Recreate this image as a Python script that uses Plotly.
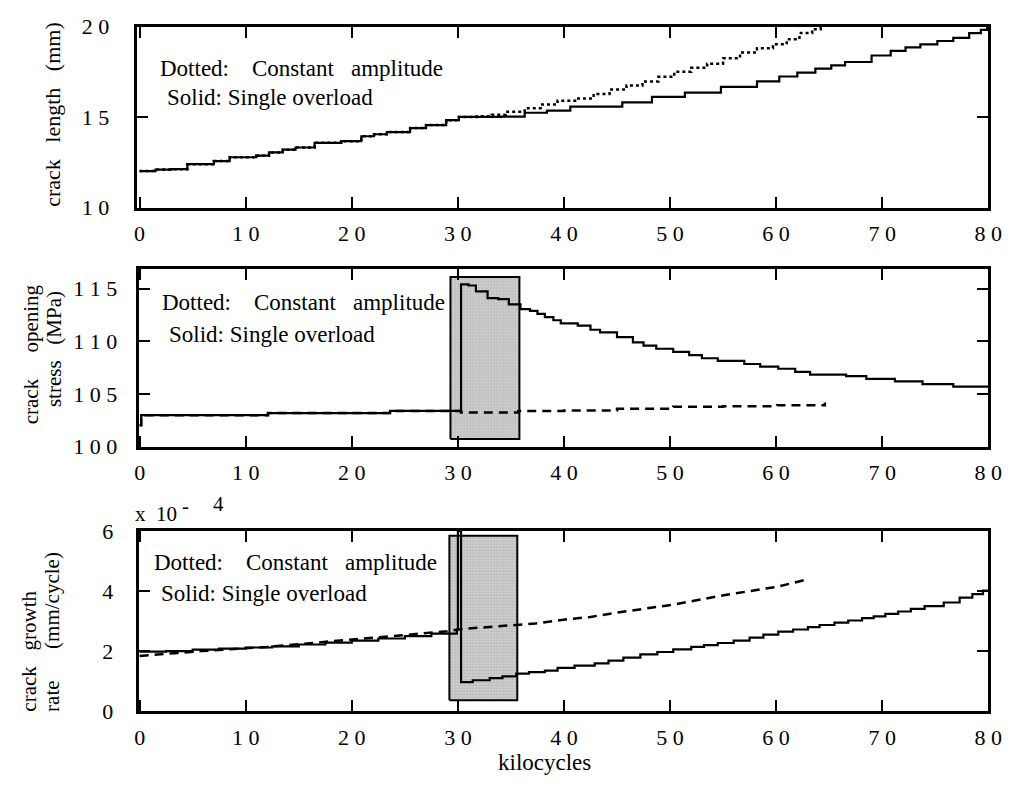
import plotly.graph_objects as go

W, H = 1018, 790

# ---------------- data ----------------
kc_ticks = [0, 10, 20, 30, 40, 50, 60, 70, 80]
kc_ticktext = ["0", "1 0", "2 0", "3 0", "4 0", "5 0", "6 0", "7 0", "8 0"]

# Panel 1: crack length (mm)
len_ol_x = [0, 1.5, 3, 4.5, 7, 8.5, 11, 12.2, 13.5, 14.7, 16.5, 19, 20.9, 22.1, 23.3, 25.5, 27,
            28.9, 30.1, 34.1, 36.3, 38.4, 40.6, 45.5, 48.3, 51.4, 54.8, 58.2, 60.3, 62, 63.7,
            65.2, 66.5, 69, 70.8, 72.2, 73.6, 75.2, 76.7, 78.2, 79.3, 79.9, 80]
len_ol_y = [12.02, 12.1, 12.12, 12.4, 12.57, 12.78, 12.87, 13.05, 13.2, 13.32, 13.58, 13.67, 13.94,
            14.05, 14.17, 14.39, 14.56, 14.83, 15.01, 15.03, 15.24, 15.36, 15.58, 15.81, 16.11,
            16.35, 16.67, 16.97, 17.24, 17.45, 17.68, 17.85, 18.04, 18.4, 18.66, 18.85, 19.02,
            19.2, 19.37, 19.64, 19.82, 20.0, 20.0]
len_ca_x = [0, 1.5, 3, 4.5, 7, 8.5, 11, 12.2, 13.5, 14.7, 16.5, 19, 20.9, 22.1, 23.3, 25.5, 27,
            28.9, 30.1, 31.8, 33.2, 34.5, 36.3, 37.8, 39.4, 41.2, 42.8, 44.3, 45.9, 47.4, 48.9,
            50.4, 52, 53.5, 55, 56.6, 58.2, 59.7, 61, 62.2, 63.4, 64.2]
len_ca_y = [12.02, 12.1, 12.12, 12.4, 12.57, 12.78, 12.87, 13.05, 13.2, 13.32, 13.58, 13.67, 13.94,
            14.05, 14.17, 14.39, 14.56, 14.83, 15.01, 15.05, 15.13, 15.3, 15.49, 15.7, 15.9,
            16.03, 16.28, 16.52, 16.75, 16.97, 17.22, 17.5, 17.72, 17.95, 18.25, 18.57, 18.8,
            19.02, 19.3, 19.64, 19.85, 20.0]

# Panel 2: crack opening stress (MPa)
sop_ol_x = [0, 0.15, 12.1, 23.6, 30.3, 31.0, 31.7, 32.8, 33.8, 34.8, 35.9, 36.8, 37.5, 38.2, 39.0,
            39.7, 41.3, 42.5, 43.4, 45.0, 46.5, 47.5, 48.7, 50.3, 51.8, 53.0, 54.5, 57.0, 58.5,
            60.2, 61.8, 63.2, 66.6, 68.5, 71.2, 73.8, 76.7, 80.0]
sop_ol_y = [102.05, 103.0, 103.2, 103.4, 115.4, 115.3, 114.75, 114.1, 114.0, 113.5, 113.05, 112.9,
            112.6, 112.3, 112.0, 111.7, 111.5, 111.1, 110.85, 110.4, 109.9, 109.6, 109.3, 109.0,
            108.7, 108.4, 108.15, 107.85, 107.6, 107.4, 107.1, 106.85, 106.7, 106.45, 106.2,
            105.95, 105.7, 105.65]
sop_ca_x = [0, 0.15, 12.1, 23.6, 30.3, 35.7, 40.0, 45.0, 50.3, 55.0, 60.1, 64.6]
sop_ca_y = [102.05, 103.0, 103.2, 103.4, 103.25, 103.4, 103.45, 103.6, 103.8, 103.85, 103.95, 104.2]

# Panel 3: crack growth rate (x 1e-4 mm/cycle)
rate_ol_x = [0, 2.5, 5, 7.5, 10, 12.5, 15, 17.5, 20, 22.5, 25, 27.5, 29.9, 30.0, 30.3, 31.4, 33,
             34.2, 35.5, 36.7, 38.2, 39.4, 41, 42.9, 44.2, 45.6, 47.2, 48.8, 50.3, 52, 53.2, 54.5,
             56, 57.5, 58.8, 60.2, 61.6, 63, 64.1, 65.5, 66.8, 68.1, 69.2, 70.3, 71.5, 72.7, 74,
             75.8, 77.3, 78.5, 79.5, 80]
rate_ol_y = [1.98, 2.0, 2.05, 2.08, 2.12, 2.16, 2.22, 2.28, 2.35, 2.42, 2.5, 2.58, 2.72, 6.0, 0.97,
             1.03, 1.1, 1.16, 1.25, 1.3, 1.35, 1.44, 1.52, 1.59, 1.68, 1.78, 1.89, 1.97, 2.06, 2.14,
             2.2, 2.27, 2.35, 2.45, 2.55, 2.65, 2.72, 2.8, 2.87, 2.95, 3.02, 3.1, 3.16, 3.24, 3.32,
             3.41, 3.5, 3.62, 3.78, 3.9, 4.02, 4.02]
rate_ca_x = [0, 5.8, 12, 18.2, 24.3, 29, 30.5, 35.5, 37.3, 40.3, 42.5, 45, 50.3, 55.2, 60.2, 62.6]
rate_ca_y = [1.84, 2.0, 2.14, 2.33, 2.52, 2.66, 2.74, 2.89, 2.92, 3.06, 3.14, 3.28, 3.55, 3.87,
             4.15, 4.36]

# Overload affected windows (shaded boxes)
sop_box_x = [29.3, 35.8]
sop_box_y = [100.75, 116.1]
rate_box_x = [29.2, 35.6]
rate_box_y = [0.36, 5.84]

# ---------------- figure ----------------
SERIF = "Liberation Serif"


def px(x):
    return x / W


def py(y):
    return 1 - y / H


fig = go.Figure()


def add_box(bx, by, xa, ya):
    fig.add_trace(go.Scatter(
        x=[bx[0], bx[1], bx[1], bx[0], bx[0]],
        y=[by[0], by[0], by[1], by[1], by[0]],
        mode="lines", fill="toself", fillcolor="#c8c8c8",
        fillpattern=dict(shape=".", fgcolor="#9a9a9a", bgcolor="#d4d4d4", size=3, solidity=0.45),
        line=dict(color="black", width=2), xaxis=xa, yaxis=ya, hoverinfo="skip"))


# panel 1
fig.add_trace(go.Scatter(x=len_ol_x, y=len_ol_y, mode="lines", line_shape="hv",
                         line=dict(color="black", width=2.2), xaxis="x", yaxis="y"))
fig.add_trace(go.Scatter(x=len_ca_x, y=len_ca_y, mode="lines", line_shape="hv",
                         line=dict(color="black", width=2.5, dash="dot"), xaxis="x", yaxis="y"))
# panel 2
add_box(sop_box_x, sop_box_y, "x2", "y2")
fig.add_trace(go.Scatter(x=sop_ca_x, y=sop_ca_y, mode="lines", line_shape="hv",
                         line=dict(color="black", width=2.5, dash="9px,6px"), xaxis="x2", yaxis="y2"))
fig.add_trace(go.Scatter(x=sop_ol_x, y=sop_ol_y, mode="lines", line_shape="hv",
                         line=dict(color="black", width=2.2), xaxis="x2", yaxis="y2"))
# panel 3
add_box(rate_box_x, rate_box_y, "x3", "y3")
fig.add_trace(go.Scatter(x=rate_ca_x, y=rate_ca_y, mode="lines",
                         line=dict(color="black", width=2.5, dash="9px,6px"), xaxis="x3", yaxis="y3"))
fig.add_trace(go.Scatter(x=rate_ol_x, y=rate_ol_y, mode="lines", line_shape="hv",
                         line=dict(color="black", width=2.2), xaxis="x3", yaxis="y3"))


def ax(**kw):
    d = dict(showline=True, linecolor="black", linewidth=3, mirror="ticks", ticks="inside",
             ticklen=11, tickwidth=2, tickcolor="black", showgrid=False, zeroline=False,
             tickfont=dict(family=SERIF, size=22, color="black"), fixedrange=True)
    d.update(kw)
    return d


xcommon = dict(tickmode="array", tickvals=kc_ticks, ticktext=kc_ticktext, ticklabelstandoff=4)

fig.update_layout(
    width=W, height=H, margin=dict(l=0, r=0, t=0, b=0),
    paper_bgcolor="white", plot_bgcolor="white", showlegend=False,
    font=dict(family=SERIF, color="black"),
    xaxis=ax(domain=[px(135), px(1002)], range=[-0.28, 80], anchor="y", **xcommon),
    yaxis=ax(domain=[py(202), py(15)], range=[10, 20], anchor="x", tickmode="array",
             tickvals=[10, 15, 20], ticktext=["1 0", "1 5", "2 0"], ticklabelstandoff=20),
    xaxis2=ax(domain=[px(137), px(1002)], range=[-0.1, 80], anchor="y2", **xcommon),
    yaxis2=ax(domain=[py(449), py(265)], range=[100, 116.9], anchor="x2", tickmode="array",
              tickvals=[100, 105, 110, 115], ticktext=["1 0 0", "1 0 5", "1 1 0", "1 1 5"],
              ticklabelstandoff=14),
    xaxis3=ax(domain=[px(137), px(1002)], range=[-0.1, 80], anchor="y3", **xcommon),
    yaxis3=ax(domain=[py(722), py(536)], range=[0, 6], anchor="x3", tickmode="array",
              tickvals=[0, 2, 4, 6], ticktext=["0", "2", "4", "6"], ticklabelstandoff=18),
)

NB = "\u00a0"
dotted_txt = "Dotted:" + NB * 4 + "Constant" + NB * 3 + "amplitude"
solid_txt = "Solid:" + NB + "Single" + NB + "overload"

annos = []


def text(t, x, y, size=23, xanchor="left", yanchor="middle", angle=0):
    annos.append(dict(text=t, x=px(x), y=py(y), xref="paper", yref="paper", showarrow=False,
                      xanchor=xanchor, yanchor=yanchor, textangle=angle,
                      font=dict(family=SERIF, size=size, color="black")))


# legends inside panels
text(dotted_txt, 157, 58)
text(solid_txt, 164, 88)
text(dotted_txt, 159, 300)
text(solid_txt, 166, 333)
text(dotted_txt, 151, 569)
text(solid_txt, 158, 600)

# y axis titles
text("crack" + NB * 3 + "length" + NB * 3 + "(mm)", 50, 106, size=22, xanchor="center", angle=-90)
text("crack" + NB * 5 + "opening", 27, 354, size=21, xanchor="center", angle=-90)
text("stress" + NB * 3 + "(MPa)", 51, 348, size=21, xanchor="center", angle=-90)
text("crack" + NB * 3 + "growth", 26, 660, size=21, xanchor="center", angle=-90)
text("rate" + NB * 6 + "(mm/cycle)", 49, 640, size=21, xanchor="center", angle=-90)

# exponent label and x title
text("x" + NB * 2 + "10", 131, 518, size=21)
text("-", 179, 510, size=21)
text("4", 211, 508, size=21)
text("kilocycles", 550, 775, size=23, xanchor="center")

fig.update_layout(annotations=annos)

fig.write_html("out.html")
